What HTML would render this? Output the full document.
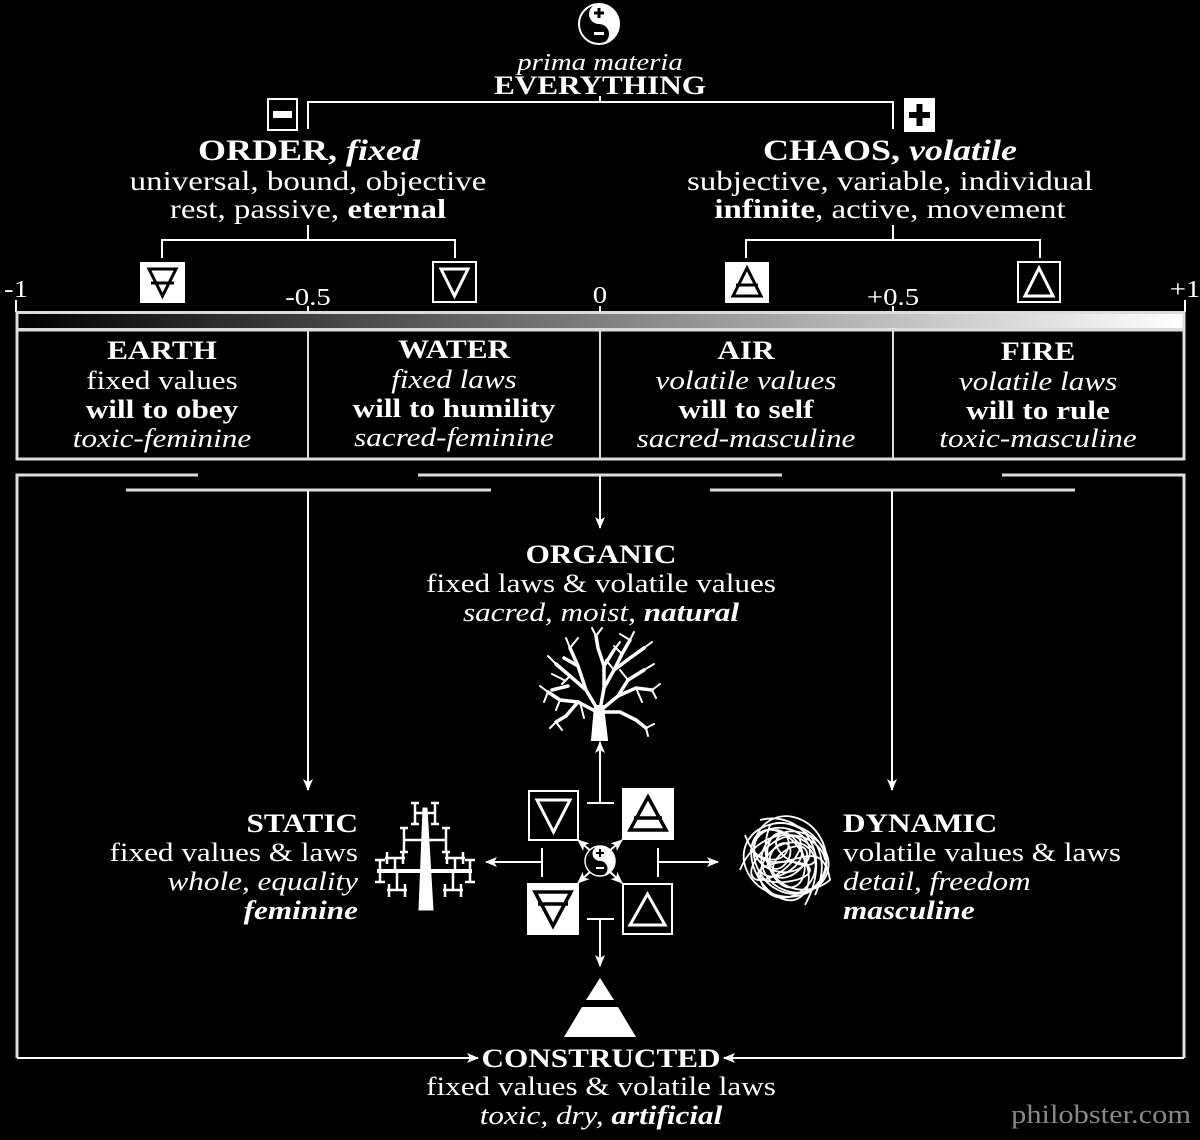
<!DOCTYPE html>
<html><head><meta charset="utf-8"><style>
html,body{margin:0;padding:0;background:#000;}
svg{display:block;}
text{font-family:"Liberation Serif",serif;fill:#fff;}
.b{font-weight:bold;}
.i{font-style:italic;}
</style></head><body>
<svg width="1200" height="1140" viewBox="0 0 1200 1140" xmlns="http://www.w3.org/2000/svg">
<defs>
<linearGradient id="g" x1="0" x2="1"><stop offset="0" stop-color="#000"/><stop offset="1" stop-color="#fff"/></linearGradient>
<marker id="ar" viewBox="0 0 12 10" refX="11" refY="5" markerWidth="12" markerHeight="10" markerUnits="userSpaceOnUse" orient="auto"><path d="M0,0 L12,5 L0,10 L3,5 Z" fill="#fff"/></marker>
</defs>
<rect width="1200" height="1140" fill="#000"/>

<g transform="translate(599,24)">
<circle r="20" fill="#000" stroke="#fff" stroke-width="2"/>
<path d="M0,-20 A20,20 0 0 1 0,20 A10,10 0 0 0 0,0 A10,10 0 0 1 0,-20 Z" fill="#fff"/>
<rect x="-1.5" y="-16" width="3" height="10" fill="#000"/><rect x="-5" y="-12.5" width="10" height="3" fill="#000"/>
<rect x="-5" y="8" width="10" height="3" fill="#fff"/>
</g>
<text transform="translate(600 0) scale(1.2 1)" y="70" font-size="24" class="i" text-anchor="middle">prima materia</text>
<text transform="translate(600 0) scale(1.2 1)" y="94" font-size="26" class="b" text-anchor="middle">EVERYTHING</text>

<g stroke="#fff" stroke-width="2" fill="none">
<path d="M600,96 V102 M308,129 V102 H893 V129"/>
<path d="M308,225 V240 M162,258 V240 H455 V258"/>
<path d="M893,225 V240 M746,258 V240 H1040 V258"/>
</g>
<rect x="268" y="99" width="29" height="31" fill="#000" stroke="#fff" stroke-width="2"/>
<rect x="273" y="111" width="19" height="7" fill="#fff"/>
<rect x="904" y="98" width="31" height="34" fill="#fff"/>
<rect x="916.5" y="104" width="6" height="22" fill="#000"/><rect x="909" y="112" width="21" height="6" fill="#000"/>

<g text-anchor="middle">
<text transform="translate(309 0) scale(1.2 1)" y="160" font-size="30" class="b">ORDER, <tspan class="i">fixed</tspan></text>
<text transform="translate(308 0) scale(1.22 1)" y="190" font-size="27">universal, bound, objective</text>
<text transform="translate(308 0) scale(1.22 1)" y="218" font-size="27">rest, passive, <tspan class="b">eternal</tspan></text>
<text transform="translate(890 0) scale(1.2 1)" y="160" font-size="30" class="b">CHAOS, <tspan class="i">volatile</tspan></text>
<text transform="translate(890 0) scale(1.22 1)" y="190" font-size="27">subjective, variable, individual</text>
<text transform="translate(890 0) scale(1.22 1)" y="218" font-size="27"><tspan class="b">infinite</tspan>, active, movement</text>
</g>

<rect x="140" y="262" width="45" height="41" fill="#fff"/>
<path d="M149,269 H176 L162.5,296 Z M151,283 H174" stroke="#000" stroke-width="3" fill="none"/>
<rect x="433" y="262" width="43" height="40" fill="#000" stroke="#fff" stroke-width="2"/>
<path d="M441,269 H468 L454.5,296 Z" stroke="#fff" stroke-width="3" fill="none"/>
<rect x="725" y="262" width="44" height="41" fill="#fff"/>
<path d="M733,296 H761 L747,268 Z M736,285 H758" stroke="#000" stroke-width="3" fill="none"/>
<rect x="1018" y="262" width="42" height="40" fill="#000" stroke="#fff" stroke-width="2"/>
<path d="M1025,296 H1053 L1039,268 Z" stroke="#fff" stroke-width="3" fill="none"/>

<g text-anchor="middle" font-size="24">
<text transform="translate(16 0) scale(1.2 1)" y="297">-1</text>
<text transform="translate(308 0) scale(1.2 1)" y="305">-0.5</text>
<text transform="translate(600 0) scale(1.2 1)" y="303">0</text>
<text transform="translate(893 0) scale(1.2 1)" y="305">+0.5</text>
<text transform="translate(1185 0) scale(1.2 1)" y="297">+1</text>
</g>
<g stroke="#fff" stroke-width="2"><path d="M16,300 V312 M308,306 V312 M600,306 V312 M893,306 V312 M1185,300 V312"/></g>

<rect x="17" y="312.5" width="1167" height="17" fill="url(#g)" stroke="#ddd" stroke-width="3"/>
<rect x="17" y="330" width="1167" height="129" fill="#000" stroke="#ddd" stroke-width="3"/>
<g stroke="#ddd" stroke-width="2"><path d="M308,330 V459 M600,330 V459 M893,330 V459"/></g>

<g font-size="26" text-anchor="middle">
<text transform="translate(162 0) scale(1.2 1)" y="359" class="b">EARTH</text><text transform="translate(162 0) scale(1.2 1)" y="389">fixed values</text><text transform="translate(162 0) scale(1.2 1)" y="418" class="b">will to obey</text><text transform="translate(162 0) scale(1.2 1)" y="447" class="i">toxic-feminine</text>
<text transform="translate(454 0) scale(1.2 1)" y="358" class="b">WATER</text><text transform="translate(454 0) scale(1.2 1)" y="388" class="i">fixed laws</text><text transform="translate(454 0) scale(1.2 1)" y="417" class="b">will to humility</text><text transform="translate(454 0) scale(1.2 1)" y="446" class="i">sacred-feminine</text>
<text transform="translate(746 0) scale(1.2 1)" y="359" class="b">AIR</text><text transform="translate(746 0) scale(1.2 1)" y="389" class="i">volatile values</text><text transform="translate(746 0) scale(1.2 1)" y="418" class="b">will to self</text><text transform="translate(746 0) scale(1.2 1)" y="447" class="i">sacred-masculine</text>
<text transform="translate(1038 0) scale(1.2 1)" y="360" class="b">FIRE</text><text transform="translate(1038 0) scale(1.2 1)" y="390" class="i">volatile laws</text><text transform="translate(1038 0) scale(1.2 1)" y="419" class="b">will to rule</text><text transform="translate(1038 0) scale(1.2 1)" y="447" class="i">toxic-masculine</text>
</g>

<g stroke="#ddd" stroke-width="3" fill="none">
<path d="M198,475 H17 V1058"/><path d="M1002,475 H1184 V1058"/>
<path d="M418,475 H782"/><path d="M126,490 H491"/><path d="M710,490 H1075"/>
</g>
<g stroke="#fff" stroke-width="2" fill="none">
<path d="M600,476 V528" marker-end="url(#ar)"/>
<path d="M308,491 V790" marker-end="url(#ar)"/>
<path d="M892,491 V790" marker-end="url(#ar)"/>
<path d="M17,1058 H478" marker-end="url(#ar)"/>
<path d="M1184,1058 H724" marker-end="url(#ar)"/>
</g>

<g font-size="26" text-anchor="middle">
<text transform="translate(601 0) scale(1.2 1)" y="563" class="b">ORGANIC</text>
<text transform="translate(601 0) scale(1.2 1)" y="592">fixed laws &amp; volatile values</text>
<text transform="translate(601 0) scale(1.2 1)" y="621" class="i">sacred, moist, <tspan class="b">natural</tspan></text>
</g>

<!-- tree -->
<g stroke="#fff" fill="none" stroke-linecap="round">
<path d="M592,740 L595,706 L603,706 L607,740 Z" fill="#fff" stroke-width="2"/>
<path d="M598,710 L586,690 L570,676 L556,664 M586,690 L578,666 L570,648 M578,666 L564,658 M600,710 L604,688 L614,670 L622,654 L630,640 M614,670 L630,658 L644,648 M604,688 L604,666 L598,648 L596,636 M604,666 L614,650 M601,710 L618,696 L636,688 L652,690 M618,696 L628,680 L644,670 M597,712 L578,702 L560,700 L548,692 M578,702 L566,716 L556,722 M568,686 L552,690 M604,712 L620,712 L636,720 L646,728" stroke-width="3.5"/>
<path d="M556,664 L548,656 M570,648 L566,638 M570,648 L578,638 M630,640 L634,632 M630,640 L620,634 M644,648 L652,642 M596,636 L592,628 M596,636 L602,628 M614,650 L620,642 M652,690 L660,684 M652,690 L656,698 M644,670 L654,664 M548,692 L540,686 M548,692 L544,702 M556,722 L550,728 M556,722 L562,730 M622,654 L614,646 M586,690 L578,682 M636,688 L642,702 M628,680 L620,670 M564,680 L552,674 M646,728 L654,724 M646,728 L648,736 M580,702 L584,718 M560,700 L556,710 M570,676 L562,684 M614,670 L606,660" stroke-width="2"/>
</g>
<path d="M600,742 V803" stroke="#fff" stroke-width="2" marker-end="url(#ar)" transform="rotate(180 600 772.5)"/>
<g stroke="#fff" stroke-width="2" fill="none">
<path d="M587,803 H614"/>
<path d="M587,919 H614 M600,919 V966" marker-end="url(#ar)"/>
<path d="M542,848 V877"/><path d="M542,862 H486" marker-end="url(#ar)"/>
<path d="M658,848 V877"/><path d="M658,862 H718" marker-end="url(#ar)"/>
</g>

<rect x="529" y="791" width="49" height="49" fill="#000" stroke="#fff" stroke-width="2"/>
<path d="M537,800 H570 L553.5,832 Z" stroke="#fff" stroke-width="3" fill="none"/>
<rect x="622" y="788" width="52" height="52" fill="#fff"/>
<path d="M630,830 H666 L648,797 Z M634,818 H662" stroke="#000" stroke-width="3.5" fill="none"/>
<rect x="527" y="883" width="52" height="52" fill="#fff"/>
<path d="M535,892 H571 L553,926 Z M538,904 H568" stroke="#000" stroke-width="3.5" fill="none"/>
<rect x="623" y="884" width="49" height="50" fill="#000" stroke="#fff" stroke-width="2"/>
<path d="M630,925 H665 L647.5,894 Z" stroke="#fff" stroke-width="3" fill="none"/>
<g stroke="#fff" stroke-width="2" fill="none">
<path d="M592,852 L578,840" marker-end="url(#ar)"/>
<path d="M608,852 L622,840" marker-end="url(#ar)"/>
<path d="M592,870 L578,883" marker-end="url(#ar)"/>
<path d="M608,870 L622,883" marker-end="url(#ar)"/>
</g>
<g transform="translate(600,861)">
<circle r="15" fill="#000" stroke="#fff" stroke-width="1.5"/>
<path d="M0,-15 A15,15 0 0 1 0,15 A7.5,7.5 0 0 0 0,0 A7.5,7.5 0 0 1 0,-15 Z" fill="#fff"/>
<rect x="-1" y="-12" width="2" height="8" fill="#000"/><rect x="-4" y="-9" width="8" height="2" fill="#000"/>
<rect x="-4" y="6" width="8" height="2" fill="#fff"/>
</g>

<!-- static tree -->
<g stroke="#fff" stroke-width="2.5" fill="none">
<path d="M419,910 L423,808 L427,808 L433,910 Z" fill="#fff" stroke-width="1"/>
<path d="M377,871 H472" stroke-width="4"/>
<path d="M425,813 H435 M414,813 H425 M415,803 V824 M435,803 V824 M411,803 H419 M411,824 H419 M431,803 H439 M431,824 H439"/>
<path d="M425,840 H445 M405,840 H425 M404,828 V852 M446,828 V852 M400,828 H408 M400,852 H408 M442,828 H450 M442,852 H450"/>
<path d="M395,871 V858 M455,871 V858 M385,858 H405 M445,858 H465 M387,852 V864 M403,852 V864 M447,852 V864 M463,852 V864"/>
<path d="M380,860 V882 M470,860 V882 M375,860 H385 M375,882 H385 M465,860 H475 M465,882 H475"/>
<path d="M397,871 V890 M453,871 V890 M387,890 H407 M443,890 H463 M389,884 V897 M405,884 V897 M445,884 V897 M461,884 V897"/>
</g>

<!-- scribble -->
<g stroke="#fff" stroke-width="1.8" fill="none">
<ellipse cx="785" cy="860" rx="42" ry="36" transform="rotate(20 785 860)"/>
<ellipse cx="790" cy="855" rx="35" ry="40" transform="rotate(-30 790 855)"/>
<ellipse cx="780" cy="865" rx="38" ry="25" transform="rotate(60 780 865)"/>
<ellipse cx="795" cy="862" rx="30" ry="34" transform="rotate(-70 795 862)"/>
<ellipse cx="782" cy="850" rx="28" ry="22" transform="rotate(10 782 850)"/>
<ellipse cx="788" cy="870" rx="25" ry="30" transform="rotate(45 788 870)"/>
<ellipse cx="786" cy="860" rx="18" ry="28" transform="rotate(-15 786 860)"/>
<ellipse cx="776" cy="858" rx="30" ry="14" transform="rotate(-40 776 858)"/>
<ellipse cx="796" cy="850" rx="22" ry="12" transform="rotate(30 796 850)"/>
<ellipse cx="784" cy="872" rx="26" ry="10" transform="rotate(-5 784 872)"/>
<ellipse cx="790" cy="862" rx="12" ry="20" transform="rotate(50 790 862)"/>
<ellipse cx="780" cy="856" rx="14" ry="9" transform="rotate(-60 780 856)"/>
<path d="M745,835 C770,900 820,820 830,880 C800,905 750,880 770,825 C790,815 840,840 815,895 M760,820 C800,810 835,850 805,905 M740,870 C760,820 820,830 825,860 M750,850 C790,880 800,830 775,830 M795,840 C820,860 770,890 760,870"/>
</g>

<g font-size="26" text-anchor="end">
<text transform="translate(358 0) scale(1.2 1)" y="832" class="b">STATIC</text>
<text transform="translate(358 0) scale(1.2 1)" y="861">fixed values &amp; laws</text>
<text transform="translate(358 0) scale(1.2 1)" y="890" class="i">whole, equality</text>
<text transform="translate(358 0) scale(1.2 1)" y="919" class="i b">feminine</text>
</g>
<g font-size="26">
<text transform="translate(843 0) scale(1.2 1)" y="832" class="b">DYNAMIC</text>
<text transform="translate(843 0) scale(1.2 1)" y="861">volatile values &amp; laws</text>
<text transform="translate(843 0) scale(1.2 1)" y="890" class="i">detail, freedom</text>
<text transform="translate(843 0) scale(1.2 1)" y="919" class="i b">masculine</text>
</g>

<path d="M600,978 L614,1000 L586,1000 Z" fill="#fff"/>
<path d="M582,1007 L618,1007 L636,1037 L564,1037 Z" fill="#fff"/>

<g font-size="26" text-anchor="middle">
<text transform="translate(601 0) scale(1.2 1)" y="1067" class="b">CONSTRUCTED</text>
<text transform="translate(601 0) scale(1.2 1)" y="1095">fixed values &amp; volatile laws</text>
<text transform="translate(601 0) scale(1.2 1)" y="1124" class="i">toxic, dry, <tspan class="b">artificial</tspan></text>
</g>
<text transform="translate(1191 0) scale(1.17 1)" y="1123" font-size="26" text-anchor="end" style="fill:#888">philobster.com</text>
</svg>
</body></html>
